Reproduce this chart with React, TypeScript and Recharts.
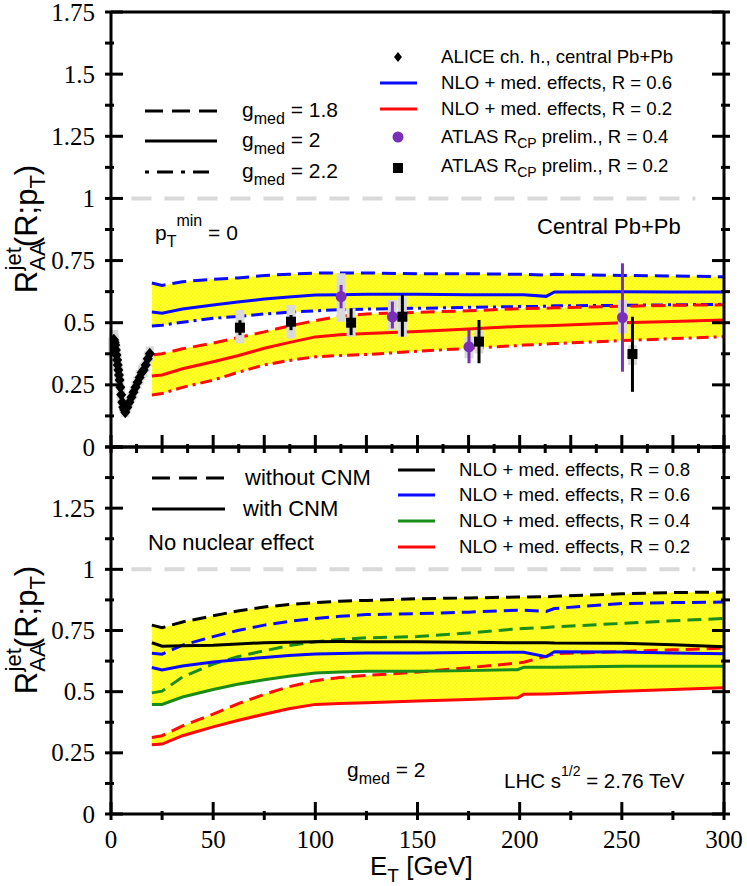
import React from "react";
import {
  ComposedChart,
  Line,
  Area,
  Scatter,
  ErrorBar,
  XAxis,
  YAxis,
  ReferenceLine,
} from "recharts";

const W = 747;
const H = 886;
const SANS = "'Liberation Sans', Arial, sans-serif";
const SERIF = "'Liberation Serif', 'Times New Roman', serif";

const BLUE = "#0a0aff";
const RED = "#ff0a0a";
const GREEN = "#1a8c1a";
const PURPLE = "#7a2fb9";
const GRAY = "#d9d9d9";

// E_T grid (GeV) of the model curves
const ET = [20, 25, 35, 50, 62, 75, 87, 100, 112, 125, 150, 175, 199, 202, 213, 217, 250, 275, 300];

// top panel: R = 0.6 and R = 0.2 for g_med = 1.8 / 2 / 2.2
const TOP_R06_G18 = [0.66, 0.65, 0.665, 0.675, 0.68, 0.69, 0.695, 0.7, 0.7, 0.7, 0.697, 0.697, 0.695, 0.695, 0.692, 0.695, 0.69, 0.688, 0.685];
const TOP_R06_G20 = [0.543, 0.538, 0.555, 0.571, 0.583, 0.595, 0.603, 0.611, 0.613, 0.615, 0.615, 0.613, 0.612, 0.612, 0.606, 0.624, 0.625, 0.624, 0.624];
const TOP_R06_G22 = [0.487, 0.49, 0.502, 0.518, 0.525, 0.535, 0.542, 0.548, 0.552, 0.555, 0.558, 0.562, 0.565, 0.565, 0.566, 0.568, 0.57, 0.572, 0.574];
const TOP_R02_G18 = [0.37, 0.375, 0.395, 0.418, 0.44, 0.463, 0.487, 0.508, 0.526, 0.535, 0.542, 0.548, 0.556, 0.557, 0.558, 0.56, 0.566, 0.57, 0.572];
const TOP_R02_G20 = [0.286, 0.29, 0.315, 0.343, 0.367, 0.397, 0.42, 0.443, 0.452, 0.457, 0.465, 0.475, 0.485, 0.486, 0.488, 0.489, 0.5, 0.505, 0.511];
const TOP_R02_G22 = [0.209, 0.215, 0.24, 0.269, 0.3, 0.33, 0.348, 0.363, 0.368, 0.372, 0.385, 0.397, 0.408, 0.41, 0.414, 0.416, 0.428, 0.436, 0.444];

// bottom panel: without CNM (dashed) / with CNM (solid)
const BOT_R08_NOCNM = [0.772, 0.761, 0.785, 0.81, 0.83, 0.846, 0.856, 0.864, 0.87, 0.873, 0.88, 0.883, 0.887, 0.887, 0.888, 0.89, 0.9, 0.905, 0.907];
const BOT_R06_NOCNM = [0.657, 0.653, 0.69, 0.725, 0.75, 0.772, 0.787, 0.799, 0.808, 0.815, 0.819, 0.825, 0.833, 0.833, 0.828, 0.84, 0.86, 0.864, 0.866];
const BOT_R04_NOCNM = [0.495, 0.502, 0.56, 0.613, 0.643, 0.667, 0.688, 0.704, 0.713, 0.72, 0.725, 0.74, 0.757, 0.758, 0.762, 0.765, 0.779, 0.79, 0.799];
const BOT_R02_NOCNM = [0.313, 0.32, 0.36, 0.408, 0.45, 0.489, 0.52, 0.545, 0.558, 0.566, 0.58, 0.598, 0.617, 0.62, 0.645, 0.655, 0.664, 0.671, 0.678];
const BOT_R08_CNM = [0.7, 0.686, 0.688, 0.69, 0.695, 0.7, 0.702, 0.704, 0.705, 0.704, 0.704, 0.702, 0.7, 0.7, 0.7, 0.699, 0.698, 0.692, 0.684];
const BOT_R06_CNM = [0.599, 0.589, 0.605, 0.621, 0.63, 0.64, 0.648, 0.654, 0.656, 0.658, 0.658, 0.66, 0.661, 0.661, 0.643, 0.663, 0.662, 0.658, 0.655];
const BOT_R04_CNM = [0.448, 0.448, 0.478, 0.509, 0.53, 0.549, 0.563, 0.576, 0.58, 0.583, 0.583, 0.586, 0.59, 0.6, 0.6, 0.6, 0.604, 0.604, 0.604];
const BOT_R02_CNM = [0.283, 0.286, 0.32, 0.356, 0.382, 0.408, 0.43, 0.448, 0.452, 0.455, 0.462, 0.468, 0.475, 0.489, 0.49, 0.491, 0.502, 0.509, 0.516];

// ALICE charged hadrons, central Pb+Pb
const ALICE_PT = [0.6, 0.9, 1.2, 1.5, 1.8, 2.1, 2.4, 2.7, 3.0, 3.3, 3.6, 3.9, 4.2, 4.6, 5.0, 5.5, 6.0, 6.5, 7.0, 8.0, 9.0, 10, 11, 12, 13, 14, 15, 16, 17, 18, 19];
const ALICE_RAA = [0.4, 0.42, 0.43, 0.43, 0.42, 0.41, 0.39, 0.37, 0.35, 0.33, 0.31, 0.29, 0.27, 0.24, 0.21, 0.18, 0.16, 0.15, 0.14, 0.16, 0.18, 0.2, 0.22, 0.24, 0.26, 0.28, 0.3, 0.31, 0.33, 0.355, 0.375];
const ALICE_SYS = [0.04, 0.04, 0.04, 0.04, 0.04, 0.04, 0.04, 0.04, 0.035, 0.035, 0.035, 0.035, 0.03, 0.03, 0.025, 0.02, 0.02, 0.02, 0.02, 0.02, 0.02, 0.02, 0.025, 0.025, 0.025, 0.03, 0.03, 0.03, 0.03, 0.03, 0.03];

// ATLAS R_CP prelim., R = 0.4
const ATLAS04_ET = [112.6, 137.7, 175.2, 250.3];
const ATLAS04_R = [0.605, 0.524, 0.403, 0.521];
const ATLAS04_STAT_LO = [0.558, 0.477, 0.337, 0.303];
const ATLAS04_STAT_HI = [0.652, 0.585, 0.471, 0.739];
const ATLAS04_SYS_LO = [0.504, 0.47, 0.357, 0.457];
const ATLAS04_SYS_HI = [0.699, 0.591, 0.444, 0.591];

// ATLAS R_CP prelim., R = 0.2
const ATLAS02_ET = [63.1, 88.1, 117.5, 142.6, 180.1, 255.2];
const ATLAS02_R = [0.48, 0.504, 0.5, 0.524, 0.424, 0.374];
const ATLAS02_STAT_LO = [0.45, 0.47, 0.45, 0.444, 0.337, 0.222];
const ATLAS02_STAT_HI = [0.51, 0.531, 0.558, 0.611, 0.511, 0.524];
const ATLAS02_SYS_LO = [0.417, 0.437, 0.444, 0.444, 0.377, 0.33];
const ATLAS02_SYS_HI = [0.551, 0.571, 0.558, 0.605, 0.47, 0.41];

// axes
const X_TICKS = [0, 12.5, 25, 37.5, 50, 62.5, 75, 87.5, 100, 112.5, 125, 137.5, 150, 162.5, 175, 187.5, 200, 212.5, 225, 237.5, 250, 262.5, 275, 287.5, 300];
const X_TICKS_BOTTOM = [0, 25, 50, 75, 100, 125, 150, 175, 200, 225, 250, 275, 300];
const Y_TICKS_TOP = [0, 0.125, 0.25, 0.375, 0.5, 0.625, 0.75, 0.875, 1, 1.125, 1.25, 1.375, 1.5, 1.625, 1.75];
const Y_TICKS_BOT = [0, 0.125, 0.25, 0.375, 0.5, 0.625, 0.75, 0.875, 1, 1.125, 1.25, 1.375, 1.5];
const UNITY_SPAN = [10, 286];

const DASH = "14 7";
const DASHDOT = "12 5 3 5";

const curve = (ys: number[]) => ET.map((x, i) => ({ x, y: ys[i] }));
const band = (lo: number[], hi: number[]) => ET.map((x, i) => ({ x, range: [lo[i], hi[i]] }));
const points = (xs: number[], ys: number[], sLo: number[], sHi: number[], yLo: number[], yHi: number[]) =>
  xs.map((x, i) => ({
    x,
    y: ys[i],
    stat: [ys[i] - sLo[i], sHi[i] - ys[i]],
    sys: [ys[i] - yLo[i], yHi[i] - ys[i]],
  }));

const aliceData = ALICE_PT.map((x, i) => ({ x, y: ALICE_RAA[i], sys: ALICE_SYS[i] }));
const atlas04 = points(ATLAS04_ET, ATLAS04_R, ATLAS04_STAT_LO, ATLAS04_STAT_HI, ATLAS04_SYS_LO, ATLAS04_SYS_HI);
const atlas02 = points(ATLAS02_ET, ATLAS02_R, ATLAS02_STAT_LO, ATLAS02_STAT_HI, ATLAS02_SYS_LO, ATLAS02_SYS_HI);

const isMajor = (v: number, step: number) => Math.abs(v / step - Math.round(v / step)) < 1e-6;

function xTick(side: "bottom" | "top", majorStep: number, labelStep: number | null) {
  return (p: any) => {
    const v = p.payload.value;
    const len = isMajor(v, majorStep) ? 18 : 9;
    const dir = side === "bottom" ? -1 : 1;
    return (
      <g>
        <line x1={p.x} x2={p.x} y1={p.y} y2={p.y + dir * len} stroke="#000" strokeWidth={3} />
        {labelStep !== null && isMajor(v, labelStep) && (
          <text x={p.x} y={p.y + 28} textAnchor="middle" fontFamily={SERIF} fontSize={25} fill="#000">
            {v}
          </text>
        )}
      </g>
    );
  };
}

function yTick(side: "left" | "right", maxLabel: number | null) {
  return (p: any) => {
    const v = p.payload.value;
    const major = isMajor(v, 0.25);
    const len = major ? 18 : 9;
    const dir = side === "left" ? 1 : -1;
    return (
      <g>
        <line x1={p.x} x2={p.x + dir * len} y1={p.y} y2={p.y} stroke="#000" strokeWidth={3} />
        {maxLabel !== null && major && v <= maxLabel + 1e-9 && (
          <text x={p.x - 10} y={p.y + 8.5} textAnchor="end" fontFamily={SERIF} fontSize={25} fill="#000">
            {String(v)}
          </text>
        )}
      </g>
    );
  };
}

const AXIS_LINE = { stroke: "#000", strokeWidth: 3 };

// axes are 1px thick boxes (zero-size axes are not drawn); margins below allow for that
function Axes({ yMax, yTicks, maxLabel, bottomTicks, bottomMajor, bottomLabels }: any) {
  return [
    <XAxis
      key="xb"
      xAxisId="b"
      type="number"
      dataKey="x"
      domain={[0, 300]}
      allowDataOverflow
      ticks={bottomTicks}
      interval={0}
      height={1}
      tickLine={false}
      tickMargin={0}
      axisLine={AXIS_LINE}
      tick={xTick("bottom", bottomMajor, bottomLabels ? 50 : null)}
    />,
    <XAxis
      key="xt"
      xAxisId="t"
      orientation="top"
      type="number"
      domain={[0, 300]}
      allowDataOverflow
      ticks={X_TICKS}
      interval={0}
      height={1}
      tickLine={false}
      tickMargin={0}
      axisLine={AXIS_LINE}
      tick={xTick("top", 25, null)}
    />,
    <YAxis
      key="yl"
      yAxisId="l"
      type="number"
      dataKey="y"
      domain={[0, yMax]}
      allowDataOverflow
      ticks={yTicks}
      interval={0}
      width={1}
      tickLine={false}
      tickMargin={0}
      axisLine={AXIS_LINE}
      tick={yTick("left", maxLabel)}
    />,
    <YAxis
      key="yr"
      yAxisId="r"
      orientation="right"
      type="number"
      domain={[0, yMax]}
      allowDataOverflow
      ticks={yTicks}
      interval={0}
      width={1}
      tickLine={false}
      tickMargin={0}
      axisLine={AXIS_LINE}
      tick={yTick("right", null)}
    />,
  ];
}

function Dots({ id }: { id: string }) {
  return (
    <defs>
      <pattern id={id} width={4} height={3.6} patternUnits="userSpaceOnUse">
        <rect width={4} height={3.6} fill="#ffff00" />
        <circle cx={1} cy={0.9} r={0.7} fill="#fffbb8" />
        <circle cx={3} cy={2.7} r={0.7} fill="#fffbb8" />
      </pattern>
    </defs>
  );
}

const ids = { xAxisId: "b", yAxisId: "l" };

function ModelLine({ ys, color, dash }: { ys: number[]; color: string; dash?: string }) {
  return (
    <Line
      {...ids}
      data={curve(ys)}
      dataKey="y"
      type="linear"
      stroke={color}
      strokeWidth={3}
      strokeDasharray={dash}
      dot={false}
      activeDot={false}
      isAnimationActive={false}
    />
  );
}

const squareShape = (p: any) => <rect x={p.cx - 5} y={p.cy - 5} width={10} height={10} fill="#000" />;
const circleShape = (p: any) => <circle cx={p.cx} cy={p.cy} r={5.5} fill={PURPLE} />;
const diamondShape = (p: any) => (
  <polygon
    points={`${p.cx},${p.cy - 6} ${p.cx + 5},${p.cy} ${p.cx},${p.cy + 6} ${p.cx - 5},${p.cy}`}
    fill="#000"
  />
);

function TopChart() {
  return (
    <ComposedChart width={W} height={H} margin={{ top: 11, right: 22, bottom: H - 448, left: 110 }}>
      <Dots id="dotsTop" />
      {Axes({ yMax: 1.75, yTicks: Y_TICKS_TOP, maxLabel: 1.75, bottomTicks: X_TICKS, bottomMajor: 25, bottomLabels: false })}
      <Area {...ids} data={band(TOP_R06_G22, TOP_R06_G18)} dataKey="range" type="linear" stroke="none" fill="url(#dotsTop)" fillOpacity={1} isAnimationActive={false} />
      <Area {...ids} data={band(TOP_R02_G22, TOP_R02_G18)} dataKey="range" type="linear" stroke="none" fill="url(#dotsTop)" fillOpacity={1} isAnimationActive={false} />
      <ReferenceLine
        {...ids}
        segment={[{ x: UNITY_SPAN[0], y: 1 }, { x: UNITY_SPAN[1], y: 1 }]}
        stroke={GRAY}
        strokeWidth={4}
        strokeDasharray="20 13"
      />
      <ModelLine ys={TOP_R06_G18} color={BLUE} dash={DASH} />
      <ModelLine ys={TOP_R06_G20} color={BLUE} />
      <ModelLine ys={TOP_R06_G22} color={BLUE} dash={DASHDOT} />
      <ModelLine ys={TOP_R02_G18} color={RED} dash={DASH} />
      <ModelLine ys={TOP_R02_G20} color={RED} />
      <ModelLine ys={TOP_R02_G22} color={RED} dash={DASHDOT} />
      <Scatter {...ids} data={aliceData} shape={diamondShape} isAnimationActive={false}>
        <ErrorBar dataKey="sys" direction="y" width={0} strokeWidth={8} stroke={GRAY} />
      </Scatter>
      <Scatter {...ids} data={atlas04} shape={circleShape} isAnimationActive={false}>
        <ErrorBar dataKey="sys" direction="y" width={0} strokeWidth={9} stroke={GRAY} />
        <ErrorBar dataKey="stat" direction="y" width={0} strokeWidth={3} stroke={PURPLE} />
      </Scatter>
      <Scatter {...ids} data={atlas02} shape={squareShape} isAnimationActive={false}>
        <ErrorBar dataKey="sys" direction="y" width={0} strokeWidth={9} stroke={GRAY} />
        <ErrorBar dataKey="stat" direction="y" width={0} strokeWidth={3} stroke="#000" />
      </Scatter>
    </ComposedChart>
  );
}

function BottomChart() {
  return (
    <ComposedChart width={W} height={H} margin={{ top: 446, right: 22, bottom: 71, left: 110 }}>
      <Dots id="dotsBot" />
      {Axes({ yMax: 1.5, yTicks: Y_TICKS_BOT, maxLabel: 1.25, bottomTicks: X_TICKS_BOTTOM, bottomMajor: 50, bottomLabels: true })}
      <Area {...ids} data={band(BOT_R04_CNM, BOT_R08_NOCNM)} dataKey="range" type="linear" stroke="none" fill="url(#dotsBot)" fillOpacity={1} isAnimationActive={false} />
      <Area {...ids} data={band(BOT_R02_CNM, BOT_R02_NOCNM)} dataKey="range" type="linear" stroke="none" fill="url(#dotsBot)" fillOpacity={1} isAnimationActive={false} />
      <ReferenceLine
        {...ids}
        segment={[{ x: UNITY_SPAN[0], y: 1 }, { x: UNITY_SPAN[1], y: 1 }]}
        stroke={GRAY}
        strokeWidth={4}
        strokeDasharray="20 13"
      />
      <ModelLine ys={BOT_R08_NOCNM} color="#000" dash={DASH} />
      <ModelLine ys={BOT_R06_NOCNM} color={BLUE} dash={DASH} />
      <ModelLine ys={BOT_R04_NOCNM} color={GREEN} dash={DASH} />
      <ModelLine ys={BOT_R02_NOCNM} color={RED} dash={DASH} />
      <ModelLine ys={BOT_R08_CNM} color="#000" />
      <ModelLine ys={BOT_R06_CNM} color={BLUE} />
      <ModelLine ys={BOT_R04_CNM} color={GREEN} />
      <ModelLine ys={BOT_R02_CNM} color={RED} />
    </ComposedChart>
  );
}

function YTitle({ cy }: { cy: number }) {
  return (
    <text transform={`translate(37, ${cy}) rotate(-90)`} textAnchor="middle" fontSize={31}>
      R
      <tspan fontSize={22} dy={8}>AA</tspan>
      <tspan fontSize={22} dx={-29} dy={-24}>jet</tspan>
      <tspan dy={16}>(R;p</tspan>
      <tspan fontSize={22} dy={8}>T</tspan>
      <tspan dy={-8}>)</tspan>
    </text>
  );
}

function Overlay() {
  const t = { fontSize: 18.6 };
  return (
    <svg
      width={W}
      height={H}
      style={{ position: "absolute", left: 0, top: 0, pointerEvents: "none" }}
      fontFamily={SANS}
      fill="#000"
    >
      <YTitle cy={229} />
      <YTitle cy={630} />

      {/* top panel: line-style key */}
      <line x1={145} x2={217} y1={111} y2={111} stroke="#000" strokeWidth={3} strokeDasharray="18 9" />
      <line x1={145} x2={217} y1={141} y2={141} stroke="#000" strokeWidth={3} />
      <line x1={145} x2={217} y1={172} y2={172} stroke="#000" strokeWidth={3} strokeDasharray="4 8 16 8" />
      <text x={242} y={117} fontSize={21}>
        g<tspan fontSize={16} dy={7}>med</tspan>
        <tspan dy={-7}> = 1.8</tspan>
      </text>
      <text x={242} y={147} fontSize={21}>
        g<tspan fontSize={16} dy={7}>med</tspan>
        <tspan dy={-7}> = 2</tspan>
      </text>
      <text x={242} y={178} fontSize={21}>
        g<tspan fontSize={16} dy={7}>med</tspan>
        <tspan dy={-7}> = 2.2</tspan>
      </text>

      {/* top panel: series key */}
      <polygon points="398,52 402,57 398,62 394,57" fill="#000" />
      <line x1={380} x2={417} y1={83} y2={83} stroke={BLUE} strokeWidth={3} />
      <line x1={380} x2={417} y1={109} y2={109} stroke={RED} strokeWidth={3} />
      <circle cx={398} cy={137} r={5.5} fill={PURPLE} />
      <rect x={393} y={163} width={10} height={10} fill="#000" />
      <text x={441} y={63} {...t}>ALICE ch. h., central Pb+Pb</text>
      <text x={441} y={89} {...t}>NLO + med. effects, R = 0.6</text>
      <text x={441} y={115} {...t}>NLO + med. effects, R = 0.2</text>
      <text x={441} y={143} {...t}>
        ATLAS R<tspan fontSize={14} dy={5}>CP</tspan>
        <tspan dy={-5}> prelim., R = 0.4</tspan>
      </text>
      <text x={441} y={172} {...t}>
        ATLAS R<tspan fontSize={14} dy={5}>CP</tspan>
        <tspan dy={-5}> prelim., R = 0.2</tspan>
      </text>

      <text x={537} y={234} fontSize={22}>Central Pb+Pb</text>
      <text x={155} y={240} fontSize={21}>
        p<tspan fontSize={16} dy={7}>T</tspan>
        <tspan fontSize={16} dy={-21}>min</tspan>
        <tspan dy={14}> = 0</tspan>
      </text>

      {/* bottom panel keys */}
      <line x1={152} x2={225} y1={478} y2={478} stroke="#000" strokeWidth={3} strokeDasharray="18 9" />
      <line x1={152} x2={225} y1={509} y2={509} stroke="#000" strokeWidth={3} />
      <text x={245} y={485} fontSize={22}>without CNM</text>
      <text x={243} y={516} fontSize={22}>with CNM</text>
      <text x={148} y={550} fontSize={22}>No nuclear effect</text>

      <line x1={398} x2={435} y1={470} y2={470} stroke="#000" strokeWidth={3} />
      <line x1={398} x2={435} y1={495} y2={495} stroke={BLUE} strokeWidth={3} />
      <line x1={398} x2={435} y1={521} y2={521} stroke={GREEN} strokeWidth={3} />
      <line x1={398} x2={435} y1={547} y2={547} stroke={RED} strokeWidth={3} />
      <text x={459} y={476} {...t}>NLO + med. effects, R = 0.8</text>
      <text x={459} y={501} {...t}>NLO + med. effects, R = 0.6</text>
      <text x={459} y={527} {...t}>NLO + med. effects, R = 0.4</text>
      <text x={459} y={553} {...t}>NLO + med. effects, R = 0.2</text>

      <text x={347} y={777} fontSize={21}>
        g<tspan fontSize={16} dy={7}>med</tspan>
        <tspan dy={-7}> = 2</tspan>
      </text>
      <text x={504} y={788} fontSize={20.5}>
        LHC s<tspan fontSize={14} dy={-12}>1/2</tspan>
        <tspan dy={12}> = 2.76 TeV</tspan>
      </text>

      <text x={370} y={875} fontSize={26}>
        E<tspan fontSize={19} dy={7}>T</tspan>
        <tspan dy={-7}> [GeV]</tspan>
      </text>
    </svg>
  );
}

export default function App() {
  return (
    <div style={{ position: "absolute", left: 0, top: 0, width: W, height: H, background: "#fff" }}>
      <div style={{ position: "absolute", left: 0, top: 0 }}>
        <TopChart />
      </div>
      <div style={{ position: "absolute", left: 0, top: 0 }}>
        <BottomChart />
      </div>
      <Overlay />
    </div>
  );
}
